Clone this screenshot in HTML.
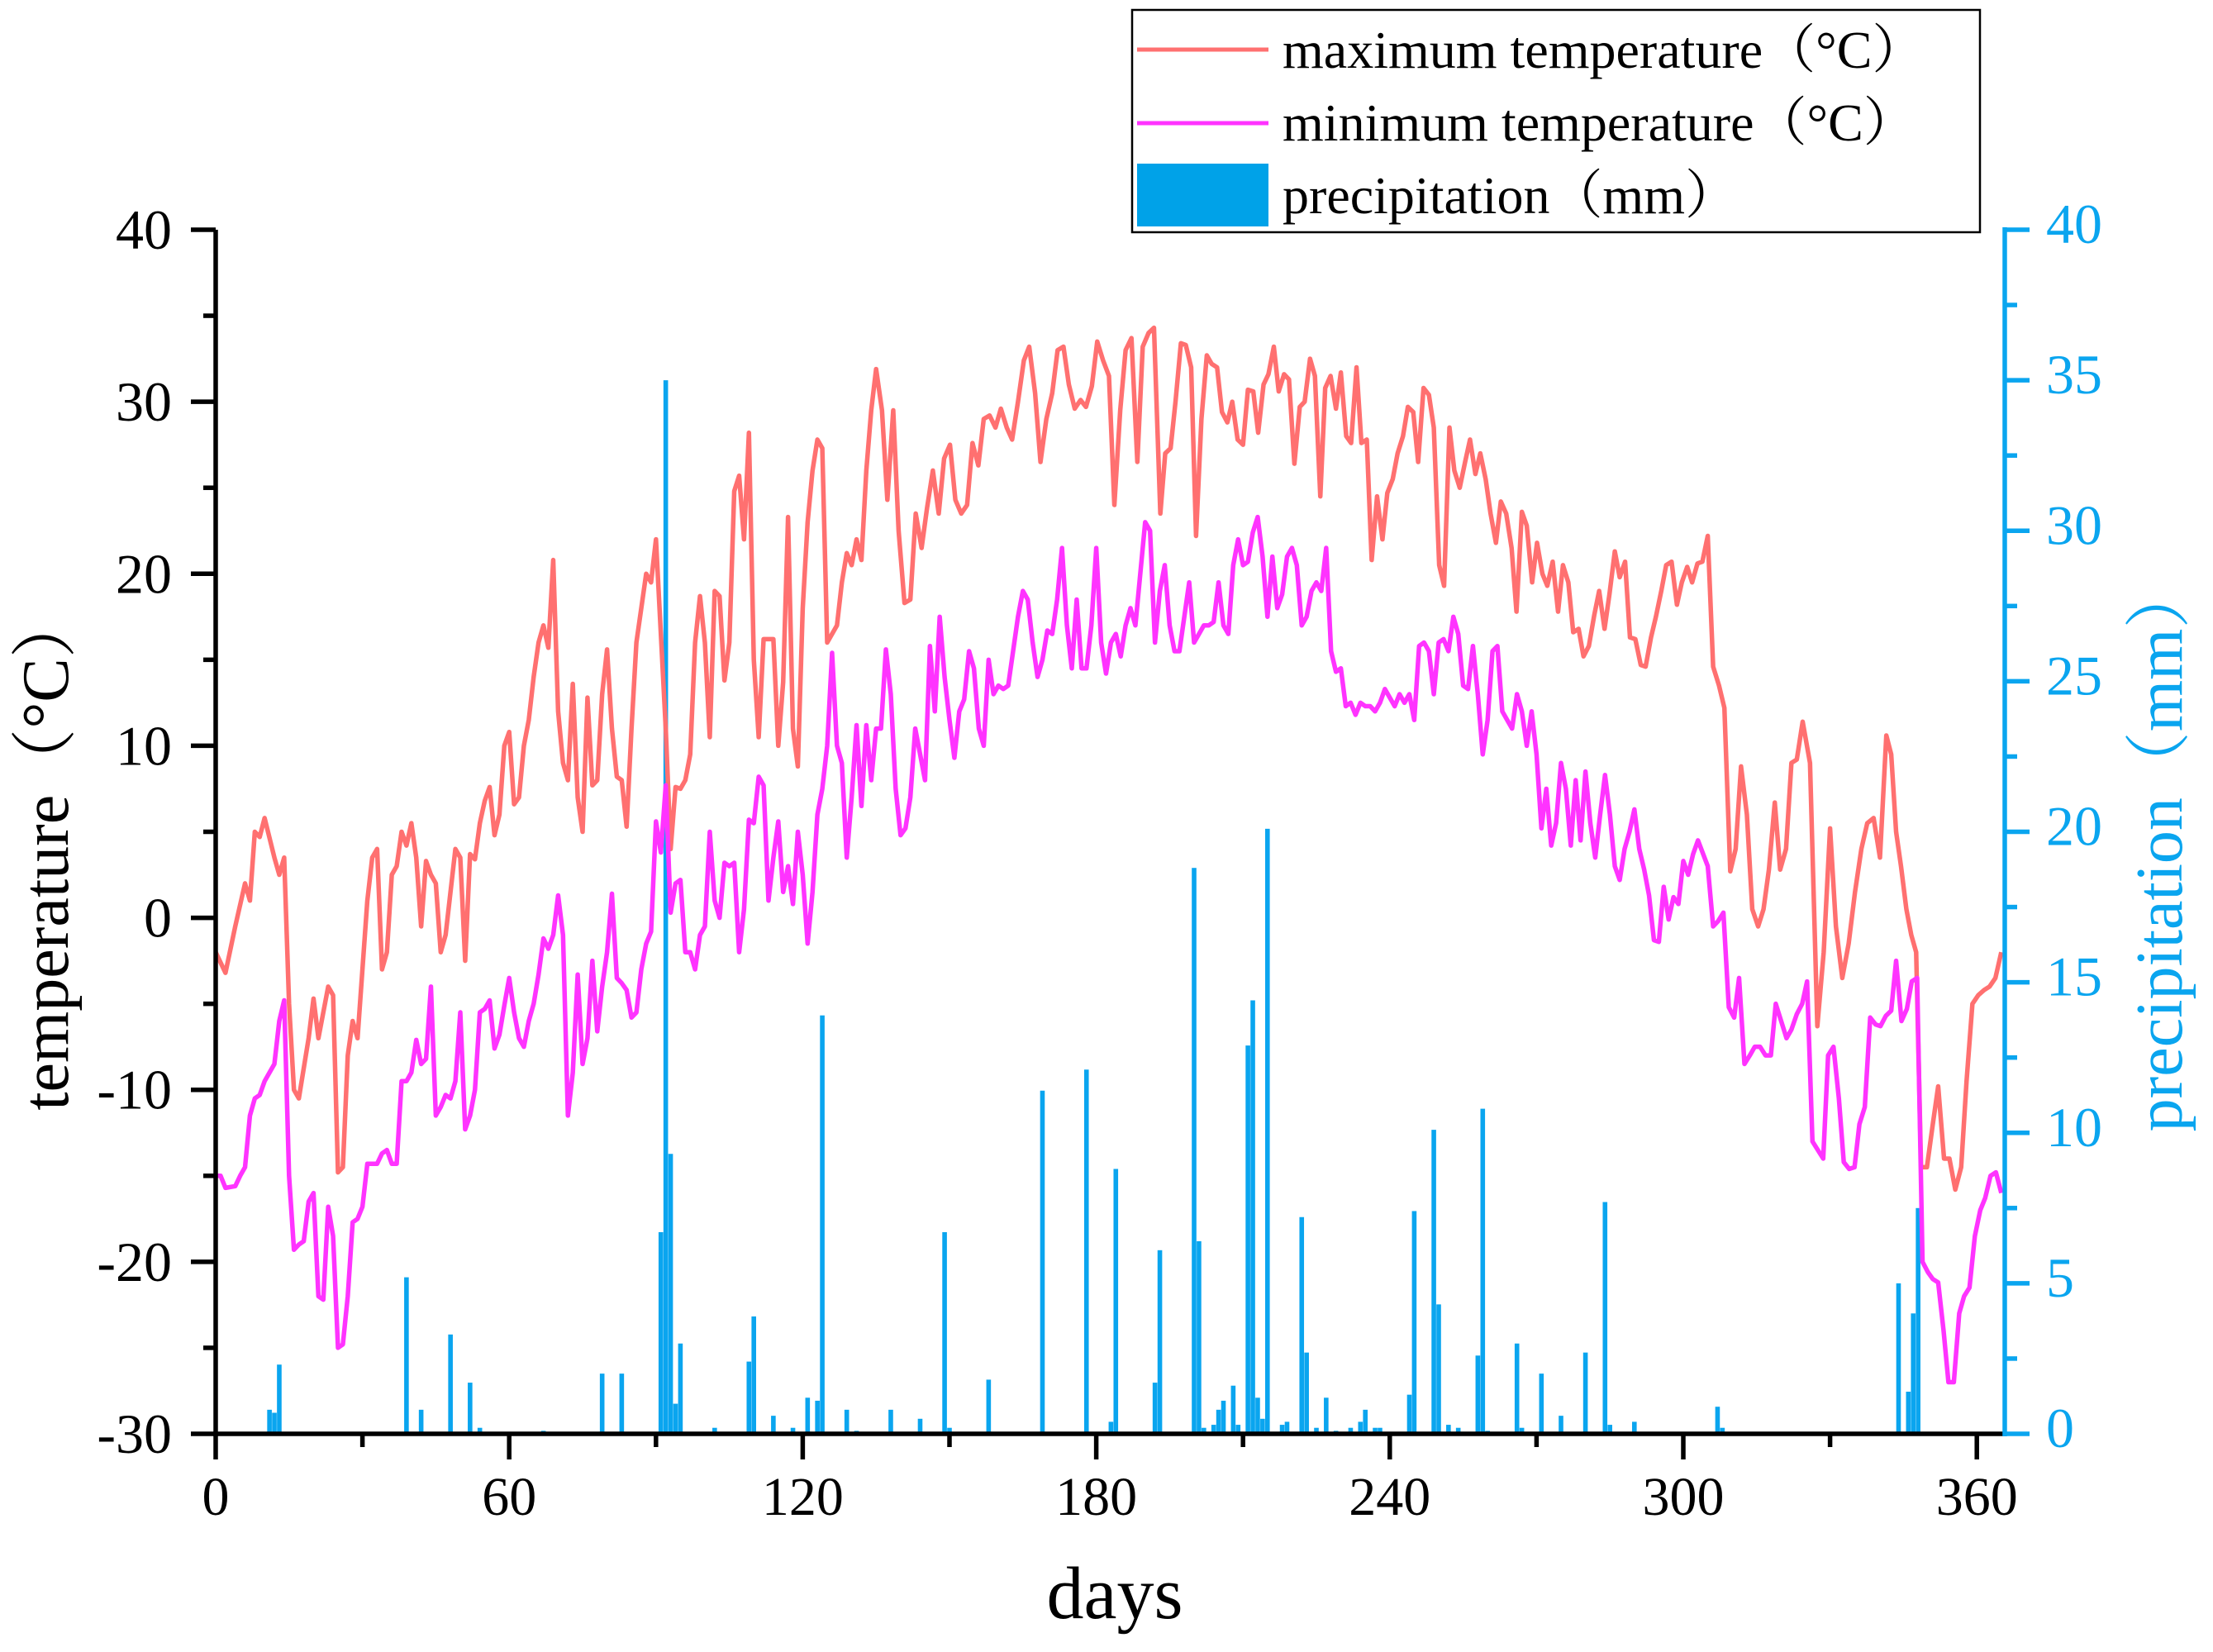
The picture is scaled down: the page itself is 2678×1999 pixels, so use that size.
<!DOCTYPE html>
<html><head><meta charset="utf-8"><style>
html,body{margin:0;padding:0;background:#fff;}
svg{display:block;font-family:"Liberation Serif","Noto Serif CJK SC",serif;}
</style></head><body>
<svg id="chart" width="2678" height="1999" viewBox="0 0 2678 1999" xmlns="http://www.w3.org/2000/svg">
<g id="bars"></g>
<g id="lines"></g>
<g id="axes"></g>
<text x="1349" y="1958" font-size="90" text-anchor="middle">days</text>
<text transform="translate(82,1030) rotate(-90)" font-size="80" text-anchor="middle">temperature（°C）</text>
<text transform="translate(2640,1025) rotate(-90)" font-size="80" text-anchor="middle" fill="#0aa5ef">precipitation（mm）</text>
<g>
<rect x="1370" y="12" width="1026" height="269" fill="#fff" stroke="#000" stroke-width="2.5"/>
<line x1="1376" y1="60" x2="1535" y2="60" stroke="#ff7070" stroke-width="5"/>
<text x="1552" y="82" font-size="64">maximum temperature（°C）</text>
<line x1="1376" y1="149" x2="1535" y2="149" stroke="#ff33ff" stroke-width="5"/>
<text x="1552" y="170" font-size="64">minimum temperature（°C）</text>
<rect x="1376" y="198" width="159" height="76" fill="#00a2e8"/>
<text x="1552" y="258" font-size="64">precipitation（mm）</text>
</g>
</svg>
<script>
const maxT = [[0,-2],[2,-3.2],[4,-0.5],[6,2],[7,1],[8,5],[9,4.7],[10,5.8],[12,3.5],[13,2.5],[14,3.5],[15,-5],[16,-10],[17,-10.5],[19,-7],[20,-4.7],[21,-7],[23,-4],[24,-4.5],[25,-14.8],[26,-14.5],[27,-8],[28,-6],[29,-7],[31,1],[32,3.5],[33,4],[34,-3],[35,-2],[36,2.5],[37,3],[38,5],[39,4.2],[40,5.5],[41,3.5],[42,-0.5],[43,3.3],[44,2.5],[45,2],[46,-2],[47,-1],[48,1.5],[49,4],[50,3.5],[51,-2.5],[52,3.7],[53,3.4],[54,5.5],[55,6.8],[56,7.6],[57,4.8],[58,6],[59,10],[60,10.8],[61,6.6],[62,7],[63,10],[64,11.5],[65,14],[66,16],[67,17],[68,15.7],[69,20.8],[70,12],[71,9],[72,8],[73,13.6],[74,7],[75,5],[76,12.8],[77,7.7],[78,8],[79,13],[80,15.6],[81,11],[82,8.2],[83,8],[84,5.3],[85,11],[86,16],[87,18],[88,20],[89,19.5],[90,22],[92,11],[93,4],[94,7.6],[95,7.5],[96,8],[97,9.5],[98,16],[99,18.7],[100,16],[101,10.5],[102,19],[103,18.7],[104,13.8],[105,16],[106,24.8],[107,25.7],[108,22],[109,28.2],[110,15],[111,10.5],[112,16.2],[114,16.2],[115,10],[116,13.7],[117,23.3],[118,11],[119,8.8],[120,18],[121,23],[122,26],[123,27.8],[124,27.3],[125,16],[126,16.5],[127,17],[128,19.5],[129,21.2],[130,20.5],[131,22],[132,20.8],[133,26],[134,29.5],[135,31.9],[136.2,29.5],[137.3,24.3],[138.5,29.5],[139.6,22.5],[140.8,18.3],[142,18.5],[143.1,23.5],[144.3,21.5],[145.4,23.8],[146.6,26],[147.8,23.5],[148.9,26.7],[150.1,27.5],[151.2,24.3],[152.4,23.5],[153.6,24],[154.7,27.6],[155.9,26.3],[157,29],[158.2,29.2],[159.4,28.5],[160.5,29.6],[161.7,28.5],[162.8,27.8],[164,30],[165.2,32.4],[166.3,33.2],[167.5,30.5],[168.6,26.5],[169.8,29],[171,30.5],[172.1,33],[173.3,33.2],[174.4,31],[175.6,29.6],[176.8,30.1],[177.9,29.7],[179.1,30.9],[180.2,33.5],[181.4,32.4],[182.6,31.5],[183.7,24],[184.9,29.5],[186,33],[187.2,33.7],[188.4,26.5],[189.5,33.2],[190.7,34],[191.8,34.3],[193.1,23.5],[194.1,27],[195.2,27.3],[196.2,30],[197.3,33.4],[198.3,33.3],[199.4,32],[200.4,22.2],[201.5,29],[202.6,32.7],[203.6,32.2],[204.7,32],[205.7,29.4],[206.8,28.8],[207.8,30],[208.9,27.8],[210,27.5],[211,30.7],[212.1,30.6],[213.1,28.2],[214.2,31],[215.2,31.6],[216.3,33.2],[217.3,30.6],[218.4,31.6],[219.4,31.3],[220.5,26.4],[221.6,29.7],[222.6,30],[223.7,32.5],[224.7,31.5],[225.8,24.5],[226.8,30.8],[227.9,31.5],[229,29.6],[230,31.7],[231.1,28],[232.1,27.6],[233.2,32],[234.2,27.6],[235.3,27.8],[236.3,20.8],[237.4,24.5],[238.5,22],[239.5,24.7],[240.6,25.5],[241.6,27],[242.7,28],[243.7,29.7],[244.8,29.4],[245.8,26.5],[246.9,30.8],[248,30.4],[249,28.5],[250.1,20.5],[251.1,19.3],[252.2,28.5],[253.2,26],[254.3,25],[255.4,26.5],[256.4,27.8],[257.5,25.8],[258.5,27],[259.6,25.5],[260.6,23.5],[261.7,21.8],[262.7,24.2],[263.8,23.5],[264.9,21.5],[265.9,17.8],[267,23.6],[268,22.8],[269.1,19.5],[270.1,21.8],[271.2,20],[272.2,19.3],[273.3,20.7],[274.4,17.8],[275.4,20.5],[276.5,19.5],[277.5,16.6],[278.6,16.8],[279.6,15.2],[280.7,15.8],[281.8,17.6],[282.8,19],[283.9,16.8],[284.9,18.8],[286,21.3],[287,19.8],[288.1,20.7],[289.1,16.3],[290.2,16.2],[291.3,14.7],[292.3,14.6],[293.4,16.3],[294.4,17.5],[295.5,19],[296.5,20.5],[297.6,20.7],[298.7,18.2],[299.7,19.5],[300.8,20.4],[301.8,19.5],[302.9,20.6],[303.9,20.7],[305,22.2],[306.1,14.6],[307.3,13.5],[308.4,12.2],[309.6,2.7],[310.7,4],[311.8,8.8],[313,6],[314.1,0.5],[315.3,-0.5],[316.4,0.5],[317.5,2.8],[318.7,6.7],[319.8,2.8],[321,4],[322.1,9],[323.2,9.2],[324.4,11.4],[325.9,9],[327.4,-6.3],[328.7,-2],[330,5.2],[331.2,-0.5],[332.5,-3.5],[333.8,-1.5],[335.1,1.5],[336.4,4],[337.6,5.5],[338.9,5.8],[340.2,3.5],[341.5,10.6],[342.5,9.5],[343.5,5],[344.5,3],[345.6,0.5],[346.6,-1],[347.6,-2],[348.6,-14.5],[349.8,-14.5],[351,-12],[352.1,-9.8],[353.3,-14],[354.4,-14],[355.6,-15.8],[356.8,-14.5],[357.9,-9.5],[359.1,-5],[360.3,-4.5],[361.5,-4.2],[362.6,-4],[363.8,-3.5],[365,-2]];
const minT = [[0,-15],[1,-15],[2,-15.7],[4,-15.6],[5,-15],[6,-14.5],[7,-11.5],[8,-10.5],[9,-10.3],[10,-9.5],[11,-9],[12,-8.5],[13,-6],[14,-4.8],[15,-15],[16,-19.3],[17,-19],[18,-18.8],[19,-16.5],[20,-16],[21,-22],[22,-22.2],[23,-16.8],[24,-18.5],[25,-25],[26,-24.8],[27,-22],[28,-17.7],[29,-17.5],[30,-16.8],[31,-14.3],[33,-14.3],[34,-13.7],[35,-13.5],[36,-14.3],[37,-14.3],[38,-9.5],[39,-9.5],[40,-9],[41,-7.1],[42,-8.5],[43,-8.2],[44,-4],[45,-11.5],[46,-11],[47,-10.3],[48,-10.5],[49,-9.5],[50,-5.5],[51,-12.3],[52,-11.5],[53,-10],[54,-5.5],[55,-5.3],[56,-4.8],[57,-7.6],[58,-6.8],[59,-5.1],[60,-3.5],[61,-5.5],[62,-7],[63,-7.5],[64,-6],[65,-5],[66,-3.3],[67,-1.2],[68,-1.8],[69,-1],[70,1.3],[71,-1],[72,-11.5],[73,-9],[74,-3.3],[75,-8.5],[76,-7],[77,-2.5],[78,-6.6],[79,-4],[80,-2],[81,1.4],[82,-3.5],[83,-3.8],[84,-4.2],[85,-5.8],[86,-5.5],[87,-3],[88,-1.5],[89,-0.8],[90,5.6],[91,3.8],[92,7.7],[93,0.3],[94,2],[95,2.2],[96,-2],[97,-2],[98,-3],[99,-1],[100,-0.5],[101,5],[102,1],[103,0],[104,3.2],[105,3],[106,3.2],[107,-2],[108,0.5],[109,5.7],[110,5.5],[111,8.2],[112,7.7],[113,1],[114,3.5],[115,5.6],[116,1.5],[117,3],[118,0.8],[119,5],[120,2.5],[121,-1.5],[122,1.5],[123,6],[124,7.5],[125,10],[126,15.4],[127,10],[128,9],[129,3.5],[130,7],[131,11.2],[132,6.5],[133,11.2],[134,8],[135,11],[136,11],[137,15.6],[138,13],[139,7.5],[140,4.8],[141,5.2],[142,7],[143,11],[144,9.5],[145,8],[146,15.8],[147,12],[148,17.5],[149,14],[150,11.5],[151,9.3],[152,12],[153,12.7],[154,15.5],[155,14.5],[156,11],[157,10],[158,15],[159,13],[160,13.5],[161,13.3],[162,13.5],[163,15.5],[164,17.5],[165,19],[166,18.5],[167,16],[168,14],[169,15],[170,16.7],[171,16.5],[172,18.5],[173,21.5],[174,17],[175,14.5],[176,18.5],[177,14.5],[178,14.5],[179,17],[180,21.5],[181,16],[182,14.2],[183,16],[184,16.5],[185,15.2],[186,17],[187,18],[188,17],[189,20],[190,23],[191,22.5],[192,16],[193,19],[194,20.5],[195,17],[196,15.5],[197,15.5],[198,17.5],[199,19.5],[200,16],[201,16.5],[202,17],[203,17],[204,17.2],[205,19.5],[206,17],[207,16.5],[208,20.5],[209,22],[210,20.5],[211,20.7],[212,22.4],[213,23.3],[214,21],[215,17.5],[216,21],[217,18],[218,18.8],[219,21],[220,21.5],[221,20.5],[222,17],[223,17.5],[224,19],[225,19.5],[226,19],[227,21.5],[228,15.5],[229,14.3],[230,14.5],[231,12.3],[232,12.5],[233,11.8],[234,12.5],[235,12.3],[236,12.3],[237,12],[238,12.5],[239,13.3],[240,12.8],[241,12.3],[242,13],[243,12.5],[244,13],[245,11.5],[246,15.8],[247,16],[248,15.5],[249,13],[250,16],[251,16.2],[252,15.5],[253,17.5],[254,16.5],[255,13.5],[256,13.3],[257,15.8],[258,13],[259,9.5],[260,11.5],[261,15.5],[262,15.8],[263,12],[264,11.5],[265,11],[266,13],[267,12],[268,10],[269,12],[270,9.5],[271,5.2],[272,7.5],[273,4.2],[274,5.5],[275,9],[276,7.5],[277,4.2],[278,8],[279,4.5],[280,8.5],[281,5.5],[282,3.5],[283,6],[284,8.3],[285,6],[286,3],[287,2.2],[288,4],[289,5],[290,6.3],[291,4],[292,2.8],[293,1.3],[294,-1.3],[295,-1.4],[296,1.8],[297,-0.1],[298,1.2],[299,0.8],[300,3.3],[301,2.5],[302,3.7],[303,4.5],[305,3],[306.1,-0.5],[307.1,-0.2],[308.2,0.3],[309.3,-5.2],[310.4,-5.8],[311.4,-3.5],[312.5,-8.5],[313.6,-8],[314.6,-7.5],[315.7,-7.5],[316.8,-8],[317.9,-8],[318.9,-5],[320,-6],[321.1,-7],[322.1,-6.5],[323.2,-5.6],[324.3,-5],[325.3,-3.7],[326.4,-13],[327.5,-13.5],[328.6,-14],[329.6,-8],[330.7,-7.5],[331.8,-10.5],[332.8,-14.2],[333.9,-14.6],[335,-14.5],[336,-12],[337.1,-11],[338.2,-5.8],[339.3,-6.2],[340.3,-6.3],[341.4,-5.7],[342.5,-5.4],[343.5,-2.5],[344.6,-6],[345.7,-5.3],[346.7,-3.7],[347.8,-3.5],[348.9,-20],[350,-20.6],[351,-21],[352.1,-21.2],[353.2,-24],[354.2,-27],[355.3,-27],[356.4,-23],[357.4,-22],[358.5,-21.5],[359.6,-18.5],[360.7,-17],[361.7,-16.3],[362.8,-15],[363.9,-14.8],[365,-16]];
const precipDays = [11,12,13,39,42,48,52,54,67,79,83,91,92,93,94,95,102,109,110,114,118,121,123,124,129,131,138,144,149,150,158,169,178,183,184,192,193,200,201,202,204,205,206,208,209,211,212,213,214,215,218,219,222,223,225,227,229,232,234,235,237,238,244,245,249,250,252,254,258,259,260,266,267,271,275,280,284,285,290,307,308,344,346,347,348];
const precipVals = [0.8,0.7,2.3,5.2,0.8,3.3,1.7,0.2,0.1,2,2,6.7,35,9.3,1,3,0.2,2.4,3.9,0.6,0.2,1.2,1.1,13.9,0.8,0.1,0.8,0.5,6.7,0.2,1.8,11.4,12.1,0.4,8.8,1.7,6.1,18.8,6.4,0.2,0.3,0.8,1.1,1.6,0.3,12.9,14.4,1.2,0.5,20.1,0.3,0.4,7.2,2.7,0.2,1.2,0.1,0.2,0.4,0.8,0.2,0.2,1.3,7.4,10.1,4.3,0.3,0.2,2.6,10.8,0.1,3,0.2,2,0.6,2.7,7.7,0.3,0.4,0.9,0.2,5,1.4,4,7.5];
const xTicks = [0,60,120,180,240,300,360];
const yTicks = [40,30,20,10,0,-10,-20,-30];
const y2Ticks = [0,5,10,15,20,25,30,35,40];

const NS = "http://www.w3.org/2000/svg";
const X0 = 261, XPD = 5.92, YTOP = 278, YBOT = 1735, XR = 2426;
const BLUE = '#0aa5ef';
function xs(d){ return X0 + d * XPD; }
function ys(t){ return YBOT - (t + 30) / 70 * (YBOT - YTOP); }
function y2s(p){ return YBOT - p / 40 * (YBOT - YTOP); }
function mk(tag, attrs, parent){ const e = document.createElementNS(NS, tag); for (const k in attrs) e.setAttribute(k, attrs[k]); parent.appendChild(e); return e; }

const bars = document.getElementById('bars');
precipDays.forEach((d, i) => {
  const r = mk('rect', {x: xs(d) - 2.8, y: y2s(precipVals[i]), width: 5.6, height: YBOT - y2s(precipVals[i]), fill: BLUE}, bars);
  
  
});
const lines = document.getElementById('lines');
const pl1 = mk('polyline', {points: maxT.map(p => xs(p[0]) + ',' + ys(p[1])).join(' '), fill: 'none', stroke: '#ff7070', 'stroke-width': 5.5, 'stroke-linejoin': 'round'}, lines);


const pl2 = mk('polyline', {points: minT.map(p => xs(p[0]) + ',' + ys(p[1])).join(' '), fill: 'none', stroke: '#ff33ff', 'stroke-width': 5.5, 'stroke-linejoin': 'round'}, lines);



const ax = document.getElementById('axes');
const la = mk('line', {x1: X0, y1: YTOP, x2: X0, y2: YBOT + 3, stroke: '#000', 'stroke-width': 5.5}, ax);


const xa = mk('line', {x1: X0 - 3, y1: YBOT, x2: XR, y2: YBOT, stroke: '#000', 'stroke-width': 5.5}, ax);


const ra = mk('line', {x1: XR, y1: YTOP - 3, x2: XR, y2: YBOT + 3, stroke: BLUE, 'stroke-width': 5.5}, ax);



for (let t = -30; t <= 40; t += 5) {
  const major = t % 10 === 0;
  mk('line', {x1: X0 - (major ? 30 : 15), y1: ys(t), x2: X0, y2: ys(t), stroke: '#000', 'stroke-width': 5.5}, ax);
}
yTicks.forEach(t => {
  const tx = mk('text', {x: 208, y: ys(t) + 23, 'font-size': 68, 'text-anchor': 'end'}, ax);
  tx.textContent = t;
  
  
});
for (let d = 0; d <= 360; d += 30) {
  const major = d % 60 === 0;
  mk('line', {x1: xs(d), y1: YBOT, x2: xs(d), y2: YBOT + (major ? 31 : 16), stroke: '#000', 'stroke-width': 5.5}, ax);
}
xTicks.forEach(d => {
  const tx = mk('text', {x: xs(d), y: 1833, 'font-size': 66, 'text-anchor': 'middle'}, ax);
  tx.textContent = d;
  
  
});
for (let p = 0; p <= 40; p += 2.5) {
  const major = p % 5 === 0;
  mk('line', {x1: XR, y1: y2s(p), x2: XR + (major ? 30 : 15), y2: y2s(p), stroke: BLUE, 'stroke-width': 5.5}, ax);
}
y2Ticks.forEach(p => {
  const tx = mk('text', {x: 2476, y: y2s(p) + 16, 'font-size': 68, 'text-anchor': 'start', fill: BLUE}, ax);
  tx.textContent = p;
  
  
});
</script>
</body></html>
